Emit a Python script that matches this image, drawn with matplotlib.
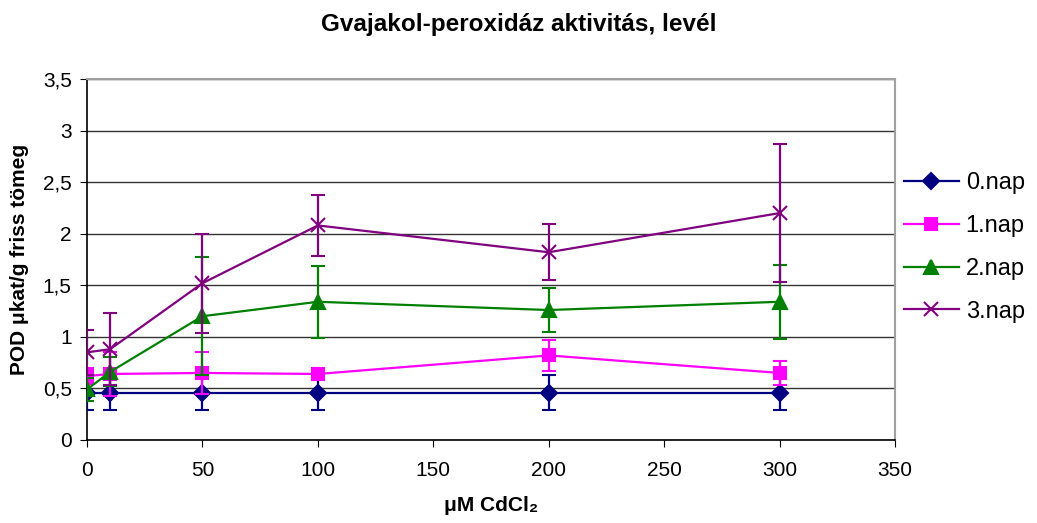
import numpy as np
import matplotlib.pyplot as plt

plt.rcParams['font.family'] = ['Liberation Sans', 'DejaVu Sans']

conc = [0, 10, 50, 100, 200, 300]
series = ['0.nap', '1.nap', '2.nap', '3.nap']
means = {
    '0.nap': [0.46, 0.46, 0.46, 0.46, 0.46, 0.46],
    '1.nap': [0.62, 0.64, 0.65, 0.64, 0.82, 0.65],
    '2.nap': [0.49, 0.66, 1.20, 1.34, 1.26, 1.34],
    '3.nap': [0.85, 0.88, 1.52, 2.08, 1.82, 2.20],
}
errs = {
    '0.nap': [0.17, 0.17, 0.17, 0.17, 0.17, 0.17],
    '1.nap': [0.08, 0.21, 0.20, 0.05, 0.15, 0.12],
    '2.nap': [0.11, 0.14, 0.57, 0.35, 0.21, 0.36],
    '3.nap': [0.22, 0.35, 0.48, 0.30, 0.27, 0.67],
}
ytick_labels = ['0', '0,5', '1', '1,5', '2', '2,5', '3', '3,5']
colors = ['#000080', '#FF00FF', '#008000', '#800080']
markers = ['D', 's', '^', 'x']
msizes = [8, 9, 10, 10]

fig = plt.figure(figsize=(10.37, 5.23), dpi=100)
ax = fig.add_axes([0.0839, 0.1587, 0.7792, 0.6903])

handles = []
for i, s in enumerate(series):
    eb = ax.errorbar(conc, means[s], yerr=errs[s], color=colors[i], marker=markers[i],
                     markersize=msizes[i], markeredgewidth=1.5, linewidth=1.6,
                     elinewidth=1.6, capsize=5, capthick=1.6, label=s, zorder=3 + i)
    handles.append(eb[0])

ax.set_xlim(0, 350)
ax.set_ylim(0, 3.5)
ax.set_xticks(np.arange(0, 351, 50))
ax.set_yticks(np.arange(0, 3.51, 0.5))
ax.set_yticklabels(ytick_labels)
ax.tick_params(labelsize=15, direction='out', length=5, color='black')
ax.tick_params(axis='x', pad=10)
ax.tick_params(axis='y', pad=6)
ax.yaxis.grid(True, color='#333333', linewidth=1)
ax.set_axisbelow(True)
for side in ['top', 'right']:
    ax.spines[side].set_color('#a0a0a0')
    ax.spines[side].set_linewidth(1.5)
ax.spines['left'].set_linewidth(1.2)
ax.spines['bottom'].set_linewidth(1.2)

ax.set_xlabel('μM CdCl₂', fontsize=15, fontweight='bold', labelpad=12)
ax.set_ylabel('POD μkat/g friss tömeg', fontsize=15, fontweight='bold', labelpad=10)
fig.suptitle('Gvajakol-peroxidáz aktivitás, levél', fontsize=17.5, fontweight='bold', y=0.975)

leg = fig.legend(handles=handles, labels=series, loc='center left',
                 bbox_to_anchor=(0.872, 0.527), fontsize=17, frameon=False,
                 handlelength=2.3, labelspacing=0.88, handletextpad=0.3,
                 borderpad=0, borderaxespad=0)

fig.savefig('out.png', dpi=100)
